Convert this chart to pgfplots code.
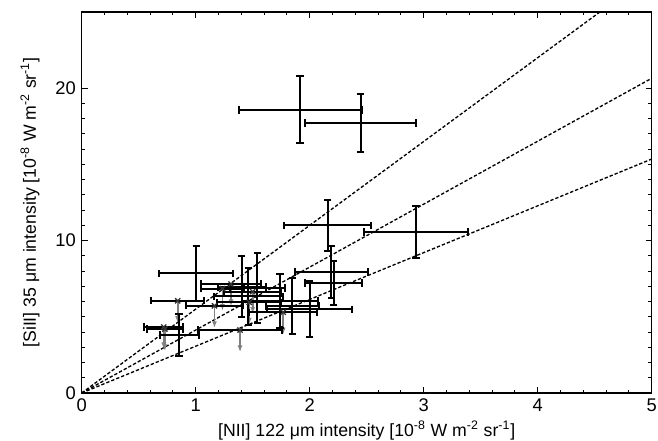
\documentclass[border=0pt]{standalone}
\usepackage{fontspec}
\setmainfont{Liberation Sans}
\usepackage{pgfplots}
\usepackage{pgfplotstable}
\pgfplotsset{compat=1.18}
\usetikzlibrary{calc,arrows.meta}

\pgfplotstableread{
x y ex ey
1.916 18.58 0.54 2.2
2.447 17.72 0.49 1.92
2.158 11.00 0.38 1.68
2.933 10.56 0.46 1.70
2.19 7.93 0.32 1.69
2.21 7.21 0.25 1.42
1.005 7.85 0.325 1.8
0.855 3.80 0.17 1.40
1.403 6.96 0.21 2.0
1.541 6.89 0.24 2.3
1.462 6.34 0.30 1.86
1.739 6.03 0.33 1.78
1.848 5.70 0.23 1.83
2.00 5.50 0.37 1.85
}\detections

\pgfplotstableread{
x y ex
0.842 6.05 0.23
1.165 5.72 0.25
0.720 4.33 0.17
0.730 4.20 0.16
1.389 4.13 0.37
1.235 6.85 0.19
1.310 7.15 0.26
1.500 6.65 0.25
1.768 5.30 0.30
1.470 5.95 0.28
}\limits

\begin{document}
\begin{tikzpicture}
\begin{axis}[
  name=ax,
  width=342pt, height=228.6pt, scale only axis,
  xmin=0, xmax=5, ymin=0, ymax=25,
  xtick={0,1,2,3,4,5}, ytick={0,10,20},
  minor x tick num=4, minor y tick num=9,
  tick align=inside,
  major tick length=3.5pt, minor tick length=2pt,
  every tick/.style={black, line width=0.5pt},
  tick label style={font=\fontsize{11}{13}\selectfont},
  label style={font=\fontsize{10.6}{12}\selectfont},
  /pgf/number format/assume math mode=true,
  axis line style={line width=0.7pt},
  xlabel={[NII] 122 μm intensity [10\textsuperscript{-8} W m\textsuperscript{-2} sr\textsuperscript{-1}]},
  ylabel={[SiII] 35 μm intensity [10\textsuperscript{-8} W m\textsuperscript{-2} sr\textsuperscript{-1}]},
  xlabel style={at={(axis description cs:0.5,-0.098)}, anchor=center},
  ylabel style={at={(axis description cs:-0.0906,0.5)}, anchor=center},
  clip=true,
]
\addplot[black, line width=0.8pt, dash pattern=on 2pt off 1.2pt] coordinates {(0,0) (5,27.5)};
\addplot[black, line width=0.8pt, dash pattern=on 2pt off 1.2pt] coordinates {(0,0) (5,20.65)};
\addplot[black, line width=0.8pt, dash pattern=on 2pt off 1.2pt] coordinates {(0,0) (5,15.35)};

\addplot[gray, line width=1.1pt, -{Latex[length=4pt,width=3pt]},
  quiver={u=0, v=-1.45}] table[x=x, y=y] {\limits};

\addplot[black!80, only marks, mark=x, mark size=2.2pt, mark options={line width=0.8pt},
  error bars/.cd, x dir=both, x explicit,
  error bar style={line width=1.2pt, black},
  error mark options={mark size=2.2pt, line width=1.2pt, black, rotate=90}]
  table[x=x, y=y, x error=ex] {\limits};

\addplot[black, only marks, mark=*, mark size=0.7pt,
  error bars/.cd, x dir=both, x explicit, y dir=both, y explicit,
  error bar style={line width=1.2pt},
  error mark options={mark size=2.2pt, line width=1.2pt, rotate=90}]
  table[x=x, y=y, x error=ex, y error=ey] {\detections};
\end{axis}
\pgfresetboundingbox
\path ($(ax.south west)+(-49pt,-28.6pt)$) rectangle ($(ax.north east)+(3.8pt,7.2pt)$);
\end{tikzpicture}
\end{document}
